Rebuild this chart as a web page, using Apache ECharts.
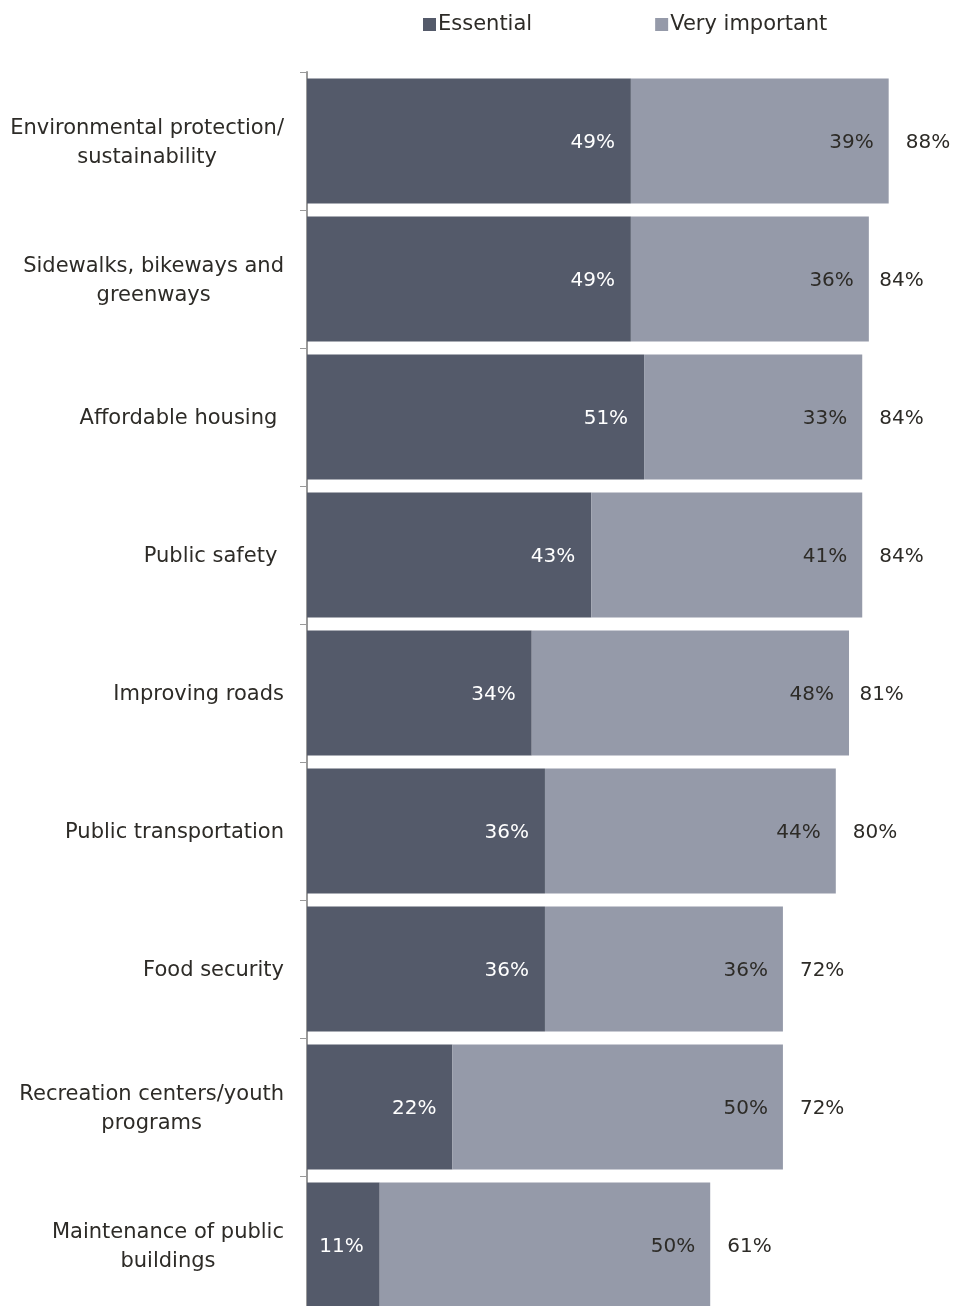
<!DOCTYPE html>
<html>
<head>
<meta charset="utf-8">
<style>
  html, body { margin: 0; padding: 0; background: #ffffff; }
  #chart { width: 953px; height: 1306px; }
</style>
<script src="https://cdn.jsdelivr.net/npm/echarts@6/dist/echarts.min.js"></script>
</head>
<body>
<div id="chart"></div>
<script>
// Priorities ranked by combined share of "Essential" + "Very important"
const categories = [
  'Environmental protection/\nsustainability',
  'Sidewalks, bikeways and\ngreenways',
  'Affordable housing ',
  'Public safety ',
  'Improving roads',
  'Public transportation',
  'Food security',
  'Recreation centers/youth\nprograms',
  'Maintenance of public\nbuildings'
];
const essential     = [49, 49, 51, 43, 34, 36, 36, 22, 11];
const veryImportant = [39, 36, 33, 41, 48, 44, 36, 50, 50];
const totals        = [88, 84, 84, 84, 81, 80, 72, 72, 61];

const FONT = '"DejaVu Sans", Verdana, sans-serif';
const TEXT = '#2d2b27';
const DARK = '#545a6a';
const LIGHT = '#959aa9';

const chart = echarts.init(document.getElementById('chart'), null, { renderer: 'canvas' });

chart.setOption({
  animation: false,
  textStyle: { fontFamily: FONT },
  legend: {
    top: 9,
    left: 418,
    itemWidth: 13,
    itemHeight: 13,
    itemGap: 123,
    icon: 'rect',
    textStyle: { fontFamily: FONT, fontSize: 21, color: TEXT, padding: [0, 0, 0, -3] },
    data: ['Essential', 'Very important']
  },
  grid: {
    left: 307, top: 72, width: 661, height: 1242,
    containLabel: false,
    outerBoundsMode: 'none'
  },
  xAxis: {
    type: 'value',
    min: 0,
    max: 100,
    show: false
  },
  yAxis: {
    type: 'category',
    inverse: true,
    data: categories,
    axisLine: { show: true, lineStyle: { color: '#9a9a9a', width: 2 } },
    axisTick: { show: true, length: 7, lineStyle: { color: '#9a9a9a', width: 1 } },
    axisLabel: {
      margin: 23,
      fontFamily: FONT,
      fontSize: 21,
      color: TEXT,
      lineHeight: 29,
      padding: [4, 0, 0, 0],
      formatter: (v) => v.split('\n').map((s) => '{c|' + s + '}').join('\n'),
      rich: { c: { align: 'center', fontFamily: FONT, fontSize: 21, color: TEXT, lineHeight: 29 } }
    },
    splitLine: { show: false }
  },
  series: [
    {
      name: 'Essential',
      type: 'bar',
      stack: 'total',
      barCategoryGap: '9.4%',
      itemStyle: { color: DARK },
      label: {
        show: true,
        position: 'insideRight',
        distance: 16,
        offset: [0, 2],
        formatter: '{c}%',
        fontFamily: FONT,
        fontSize: 20,
        color: '#ffffff'
      },
      data: essential
    },
    {
      name: 'Very important',
      type: 'bar',
      stack: 'total',
      barCategoryGap: '9.4%',
      itemStyle: { color: LIGHT },
      label: {
        show: true,
        position: 'insideRight',
        distance: 15,
        offset: [0, 2],
        formatter: '{c}%',
        fontFamily: FONT,
        fontSize: 20,
        color: TEXT
      },
      data: veryImportant
    },
    {
      name: 'Total',
      type: 'scatter',
      symbolSize: 0,
      silent: true,
      itemStyle: { opacity: 1 },
      label: {
        show: true,
        position: 'right',
        distance: 17,
        offset: [0, 2],
        formatter: (p) => p.value[0] + '%',
        fontFamily: FONT,
        fontSize: 20,
        color: TEXT,
        opacity: 1
      },
      data: totals.map((t, i) => [t, i])
    }
  ]
});
</script>
</body>
</html>
